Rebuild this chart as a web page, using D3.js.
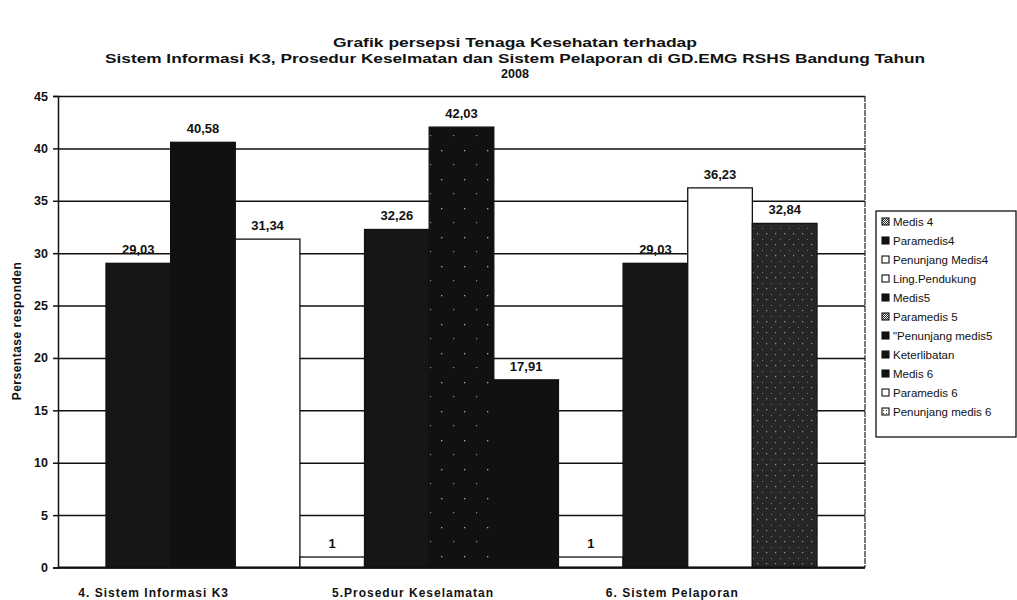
<!DOCTYPE html>
<html><head><meta charset="utf-8">
<script src="https://cdn.jsdelivr.net/npm/d3@7"></script>
<style>
body{margin:0;background:#fff}
svg{display:block}
text{font-family:Arial,"Liberation Sans",sans-serif;fill:#111}
</style>
</head><body>
<svg id="c" width="1017" height="600"></svg>
<script>
// ---- data ----
const titleLines = [
  "Grafik persepsi Tenaga Kesehatan terhadap",
  "Sistem Informasi K3, Prosedur Keselmatan dan Sistem Pelaporan di GD.EMG RSHS Bandung Tahun",
  "2008"
];
const categories = ["4. Sistem Informasi K3", "5.Prosedur Keselamatan", "6. Sistem Pelaporan"];
const seriesNames = ["Medis 4", "Paramedis4", "Penunjang Medis4", "Ling.Pendukung", "Medis5",
  "Paramedis 5", "\"Penunjang medis5", "Keterlibatan", "Medis 6", "Paramedis 6", "Penunjang medis 6"];
const seriesValues = [29.03, 40.58, 31.34, 1, 32.26, 42.03, 17.91, 1, 29.03, 36.23, 32.84];
const seriesCategory = [0, 0, 0, 1, 1, 1, 1, 2, 2, 2, 2];
const yTicks = [0, 5, 10, 15, 20, 25, 30, 35, 40, 45];
const yLabel = "Persentase responden";

// ---- styles ----
const barFill = ["#161616", "#111", "#fff", "#fff", "#161616", "url(#specks)", "#111", "#fff", "#161616", "#fff", "url(#dots)"];
const legendFill = ["url(#grid)", "#111", "#fff", "#fff", "#111", "url(#grid)", "#111", "#111", "#111", "#fff", "url(#wdots)"];

const svg = d3.select("#c");
const defs = svg.append("defs");
// patterns
const p1 = defs.append("pattern").attr("id", "specks").attr("patternUnits", "userSpaceOnUse").attr("width", 23).attr("height", 29);
p1.append("rect").attr("width", 23).attr("height", 29).attr("fill", "#111");
p1.append("rect").attr("x", 4).attr("y", 5).attr("width", 1.3).attr("height", 1.3).attr("fill", "#aaa");
p1.append("rect").attr("x", 16).attr("y", 19).attr("width", 1.2).attr("height", 1.2).attr("fill", "#888");
const p2 = defs.append("pattern").attr("id", "dots").attr("patternUnits", "userSpaceOnUse").attr("width", 9).attr("height", 11);
p2.append("rect").attr("width", 9).attr("height", 11).attr("fill", "#262626");
p2.append("rect").attr("x", 1).attr("y", 2).attr("width", 1.2).attr("height", 1.2).attr("fill", "#999");
p2.append("rect").attr("x", 6).attr("y", 8).attr("width", 1).attr("height", 1).attr("fill", "#777");
const p3 = defs.append("pattern").attr("id", "grid").attr("patternUnits", "userSpaceOnUse").attr("width", 2).attr("height", 2);
p3.append("rect").attr("width", 2).attr("height", 2).attr("fill", "#fff");
p3.append("rect").attr("width", 1).attr("height", 1).attr("fill", "#222");
p3.append("rect").attr("x", 1).attr("y", 1).attr("width", 1).attr("height", 1).attr("fill", "#222");
const p4 = defs.append("pattern").attr("id", "wdots").attr("patternUnits", "userSpaceOnUse").attr("width", 3).attr("height", 3);
p4.append("rect").attr("width", 3).attr("height", 3).attr("fill", "#fff");
p4.append("rect").attr("x", 1).attr("y", 1).attr("width", 1).attr("height", 1).attr("fill", "#444");

// ---- layout ----
const plot = {left: 58, right: 865, top: 96, bottom: 567.5};
const y = d3.scaleLinear().domain([0, 45]).range([plot.bottom, plot.top]);
const x = d3.scaleBand().domain(seriesNames).range([106, 817]).padding(0);
const xc = d3.scaleBand().domain(categories).range([24, 802]);
const fmt = d3.formatLocale({decimal: ",", thousands: ".", grouping: [3], currency: ["", ""]}).format(".2~f");

// title
const tw = [364, 820, null];
const tt = svg.append("g");
titleLines.forEach((t, i) => {
  const el = tt.append("text").attr("x", 515).attr("y", 47 + i * 15.5)
    .attr("text-anchor", "middle").attr("font-size", 12.5).attr("font-weight", "bold").text(t);
  if (tw[i]) el.attr("textLength", tw[i]).attr("lengthAdjust", "spacingAndGlyphs");
});

// gridlines
const grid = svg.append("g").attr("transform", `translate(${plot.left},0)`)
  .call(d3.axisLeft(y).tickValues(yTicks).tickSize(-(plot.right - plot.left)).tickFormat(""));
grid.select(".domain").remove();
grid.selectAll("line").attr("stroke", "#111").attr("stroke-width", 1.5);

// right border
svg.append("line").attr("x1", plot.right).attr("x2", plot.right).attr("y1", plot.top).attr("y2", plot.bottom)
  .attr("stroke", "#222").attr("stroke-width", 1.2).attr("stroke-dasharray", "6,1");

// bars
svg.append("g").selectAll("rect").data(seriesValues).join("rect")
  .attr("x", (d, i) => x(seriesNames[i]))
  .attr("y", d => y(d))
  .attr("width", x.bandwidth())
  .attr("height", d => y(0) - y(d))
  .attr("fill", (d, i) => barFill[i])
  .attr("stroke", "#111").attr("stroke-width", 1.3);

// value labels
svg.append("g").selectAll("text").data(seriesValues).join("text")
  .attr("x", (d, i) => x(seriesNames[i]) + x.bandwidth() / 2)
  .attr("y", d => y(d) - 9)
  .attr("text-anchor", "middle").attr("font-size", 13).attr("font-weight", "bold")
  .text(d => fmt(d));

// y axis
const ya = svg.append("g").attr("transform", `translate(${plot.left},0)`)
  .call(d3.axisLeft(y).tickValues(yTicks).tickSize(5).tickPadding(5));
ya.select(".domain").attr("stroke", "#111").attr("stroke-width", 1.5);
ya.selectAll(".tick line").attr("stroke", "#111").attr("stroke-width", 1.5);
ya.selectAll(".tick text").attr("font-size", 12.5).attr("font-weight", "bold").attr("fill", "#111")
  .attr("font-family", "Arial, 'Liberation Sans', sans-serif");

// x axis baseline
svg.append("line").attr("x1", plot.left).attr("x2", plot.right).attr("y1", y(0)).attr("y2", y(0))
  .attr("stroke", "#111").attr("stroke-width", 2);

// category labels
svg.append("g").selectAll("text").data(categories).join("text")
  .attr("x", d => xc(d) + xc.bandwidth() / 2).attr("y", 597)
  .attr("text-anchor", "middle").attr("font-size", 12).attr("font-weight", "bold")
  .attr("letter-spacing", 1).text(d => d);

// y label
svg.append("text").attr("transform", "translate(21,331) rotate(-90)")
  .attr("text-anchor", "middle").attr("font-size", 12).attr("font-weight", "bold")
  .attr("letter-spacing", 0.5).text(yLabel);

// legend
const lg = svg.append("g");
lg.append("rect").attr("x", 876).attr("y", 211).attr("width", 140).attr("height", 226)
  .attr("fill", "#fff").attr("stroke", "#111").attr("stroke-width", 1.3);
const items = lg.selectAll("g.it").data(seriesNames).join("g").attr("class", "it")
  .attr("transform", (d, i) => `translate(882,${222 + i * 19})`);
items.append("rect").attr("x", 0).attr("y", -4).attr("width", 7).attr("height", 7)
  .attr("fill", (d, i) => legendFill[i]).attr("stroke", "#111").attr("stroke-width", 1.1);
items.append("text").attr("x", 11).attr("y", 4).attr("font-size", 11.5).text(d => d);
</script>
</body></html>
